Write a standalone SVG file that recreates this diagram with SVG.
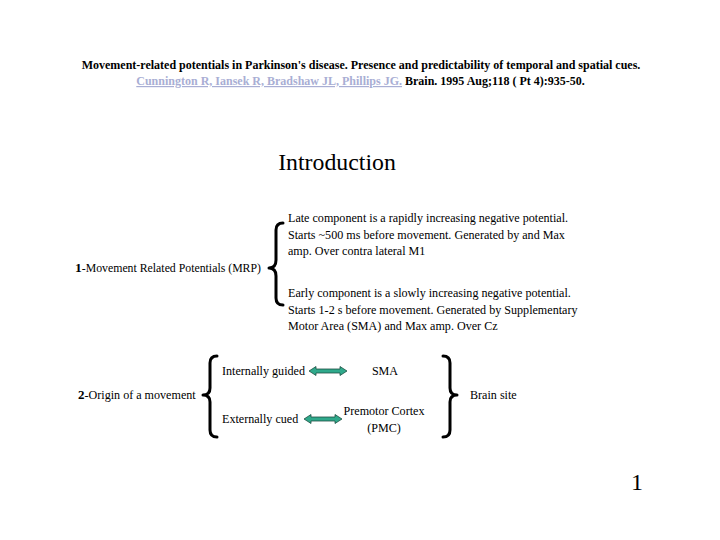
<svg xmlns="http://www.w3.org/2000/svg" width="720" height="540" viewBox="0 0 720 540">
<style>
text{font-family:"Liberation Serif","Times New Roman",serif;fill:#000}
.t{font-size:12px;font-weight:bold}
.b{font-size:12.1px}
.link{fill:#a9aed4;font-weight:bold;text-decoration:underline}
.brace{fill:none;stroke:#000;stroke-width:3;stroke-linejoin:round;stroke-linecap:round}
.arr{fill:#2fa98b;stroke:#1d4f42;stroke-width:0.8}
</style>
<rect width="720" height="540" fill="#fff"/>
<g id="title">
<text class="t" x="361" y="69" text-anchor="middle">Movement-related potentials in Parkinson's disease. Presence and predictability of temporal and spatial cues.</text>
<text class="t" x="360.5" y="85" text-anchor="middle"><tspan class="link">Cunnington R, Iansek R, Bradshaw JL, Phillips JG.</tspan> Brain. 1995 Aug;118 ( Pt 4):935-50.</text>
</g>
<g id="heading"><text x="337" y="170" text-anchor="middle" font-size="23.8">Introduction</text></g>
<g id="mrp"><text x="75" y="272" font-size="11.8"><tspan font-size="13.5" font-weight="bold">1</tspan>-Movement Related Potentials (MRP)</text></g>
<g id="late">
<text class="b" x="288" y="222">Late component is a rapidly increasing negative potential.</text>
<text class="b" x="288" y="239">Starts ~500 ms before movement. Generated by and Max</text>
<text class="b" x="288" y="255">amp. Over contra lateral M1</text>
</g>
<g id="early">
<text class="b" x="288" y="297">Early component is a slowly increasing negative potential.</text>
<text class="b" x="288" y="314">Starts 1-2 s before movement. Generated by Supplementary</text>
<text class="b" x="288" y="330">Motor Area (SMA) and Max amp. Over Cz</text>
</g>
<g id="origin"><text class="b" x="78" y="399"><tspan font-size="13" font-weight="bold">2</tspan>-Origin of a movement</text></g>
<g id="internal"><text class="b" x="222" y="375">Internally guided</text></g>
<g id="external"><text class="b" x="222" y="423">Externally cued</text></g>
<g id="sma"><text class="b" x="385" y="375" text-anchor="middle">SMA</text></g>
<g id="pmc"><text class="b" x="384" y="415" text-anchor="middle">Premotor Cortex</text><text class="b" x="384" y="432" text-anchor="middle">(PMC)</text></g>
<g id="brainsite"><text class="b" x="470" y="399">Brain site</text></g>
<g id="pagenum"><text x="637" y="490" text-anchor="middle" font-size="24">1</text></g>
<g id="connectors">
<path class="brace" d="M283,223 Q276,223 276,230 L276,260 Q276,268 269,268 Q276,268 276,276 L276,298 Q276,305 283,305"/>
<path class="brace" d="M217,356 Q210,356 210,363 L210,388 Q210,395 203,395 Q210,395 210,402 L210,430 Q210,437 217,437"/>
<path class="brace" d="M443,356 Q450,356 450,363 L450,388 Q450,395 457,395 Q450,395 450,402 L450,430 Q450,437 443,437"/>
<polygon class="arr" points="309,371 316,366.5 316,369 340,369 340,366.5 347,371 340,375.5 340,373 316,373 316,375.5"/>
<polygon class="arr" points="304,419 311,414.5 311,417 335,417 335,414.5 342,419 335,423.5 335,421 311,421 311,423.5"/>
</g>
</svg>
